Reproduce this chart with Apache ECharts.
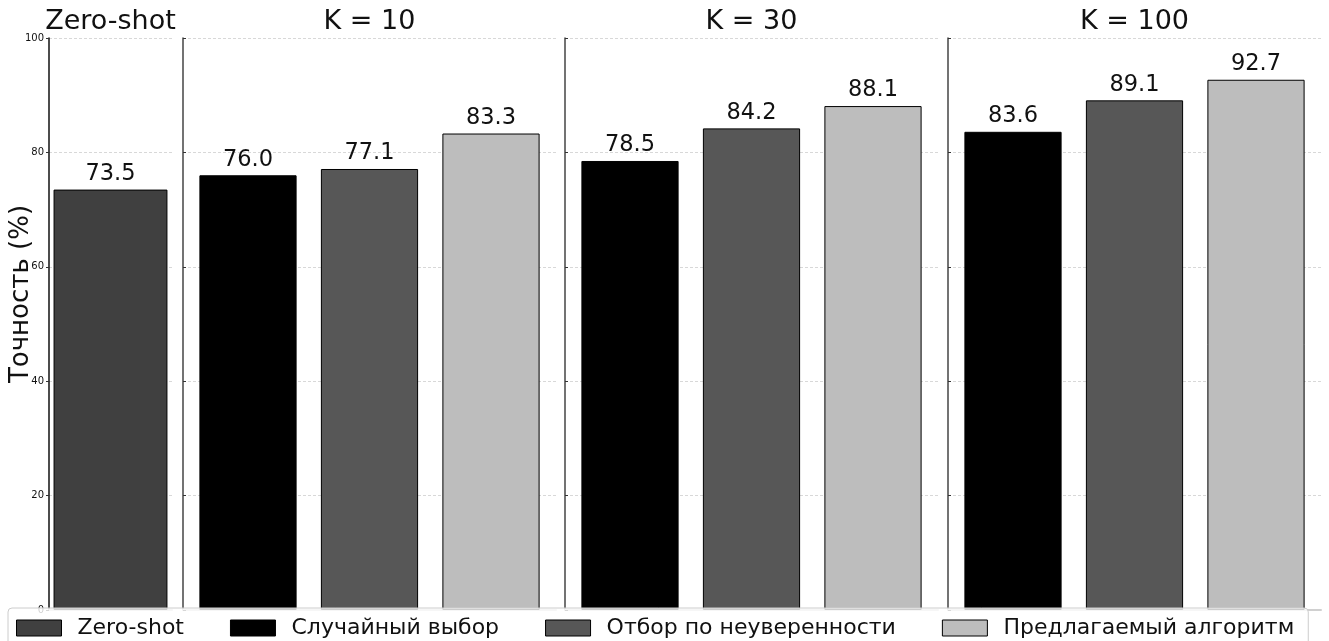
<!DOCTYPE html>
<html>
<head>
<meta charset="utf-8">
<script src="https://cdn.jsdelivr.net/npm/echarts@6/dist/echarts.min.js"></script>
<style>
html,body{margin:0;padding:0;background:#fff;}
#chart{width:1329px;height:641px;}
</style>
</head>
<body>
<div id="chart"></div>
<script>
// ---- data ----
const methods = ['Zero-shot', 'Случайный выбор', 'Отбор по неуверенности', 'Предлагаемый алгоритм'];
const panelTitles = ['Zero-shot', 'K = 10', 'K = 30', 'K = 100'];
const zeroShot = [73.5];
const randomSel = [76.0, 78.5, 83.6];
const uncertainty = [77.1, 84.2, 89.1];
const proposed = [83.3, 88.1, 92.7];
const yTicks = [0, 20, 40, 60, 80, 100];
const yLabel = 'Точность (%)';

// ---- styling ----
const FONT = 'DejaVu Sans';
const colors = ['#404040', '#000000', '#575757', '#bdbdbd'];
const grids = [
  {left: 49, width: 123, top: 38, height: 572},
  {left: 183, width: 373, top: 38, height: 572},
  {left: 565, width: 373, top: 38, height: 572},
  {left: 948, width: 373, top: 38, height: 572}
];
// x ranges (bar slot units) per panel, bars have width 0.8 units
const xRanges = [[-0.432, 0.432], [-0.535, 2.535], [-0.535, 2.535], [-0.535, 2.535]];

const chart = echarts.init(document.getElementById('chart'), null, {renderer: 'canvas'});

const xAxis = grids.map((g, i) => ({
  type: 'value',
  gridIndex: i,
  min: xRanges[i][0], max: xRanges[i][1],
  axisLabel: {show: false},
  axisTick: {show: false},
  axisLine: {show: true, onZero: false, lineStyle: {color: '#d0d0d0', width: 2}},
  splitLine: {show: false}
}));

const yAxis = grids.map((g, i) => ({
  type: 'value',
  gridIndex: i,
  min: 0, max: 100, interval: 20,
  axisLabel: {show: i === 0, fontSize: 10, color: '#111', fontFamily: FONT, margin: 5,
    formatter: v => yTicks.includes(v) ? String(v) : ''},
  axisTick: {show: true, length: 3, inside: i !== 0, lineStyle: {color: '#333'}},
  axisLine: {show: true, onZero: false, lineStyle: {color: i === 0 ? '#111' : '#444', width: 1.5}},
  splitLine: {show: true, lineStyle: {color: '#d8d8d8', type: [3, 2], width: 1}}
}));

const labelCfg = {
  show: true, position: 'top', distance: 4,
  fontSize: 22.5, color: '#111', fontFamily: FONT,
  formatter: p => p.value[1].toFixed(1)
};

function pxPerUnit(i) {
  return grids[i].width / (xRanges[i][1] - xRanges[i][0]);
}

const series = [];
series.push({
  name: methods[0], type: 'bar', xAxisIndex: 0, yAxisIndex: 0,
  data: zeroShot.map((v, k) => [k, v]),
  barWidth: 0.8 * pxPerUnit(0),
  itemStyle: {color: colors[0], borderColor: '#000', borderWidth: 1},
  label: labelCfg
});
const groups = [randomSel, uncertainty, proposed];
for (let p = 0; p < 3; p++) {
  for (let m = 0; m < 3; m++) {
    series.push({
      name: methods[m + 1], type: 'bar', xAxisIndex: p + 1, yAxisIndex: p + 1,
      data: [[m, groups[m][p]]],
      barWidth: 0.8 * pxPerUnit(p + 1), barGap: '-100%',
      itemStyle: {color: colors[m + 1], borderColor: '#000', borderWidth: 1},
      label: labelCfg
    });
  }
}

const graphics = grids.map((g, i) => ({
  type: 'text',
  x: g.left + g.width / 2,
  y: 22,
  style: {text: panelTitles[i], font: '27px "' + FONT + '"', fill: '#111',
    textAlign: 'center', textVerticalAlign: 'middle'}
}));
graphics.push({
  type: 'text', x: 21, y: 294, rotation: Math.PI / 2,
  style: {text: yLabel, font: '26px "' + FONT + '"', fill: '#111',
    textAlign: 'center', textVerticalAlign: 'middle'}
});

chart.setOption({
  animation: false,
  textStyle: {fontFamily: FONT},
  grid: grids,
  xAxis: xAxis,
  yAxis: yAxis,
  series: series,
  graphic: graphics,
  legend: {
    data: methods,
    left: 8, top: 608,
    width: 1310,
    orient: 'horizontal',
    padding: [9, 14, 12, 8],
    itemWidth: 45, itemHeight: 16, itemGap: 46,
    icon: 'rect',
    backgroundColor: 'rgba(255,255,255,0.8)',
    borderColor: '#cccccc', borderWidth: 1, borderRadius: 4,
    textStyle: {fontSize: 22, color: '#111', fontFamily: FONT, padding: [0, 0, 0, 11]},
    itemStyle: {borderColor: '#000', borderWidth: 1},
    selectedMode: false,
    z: 10
  }
});
</script>
</body>
</html>
